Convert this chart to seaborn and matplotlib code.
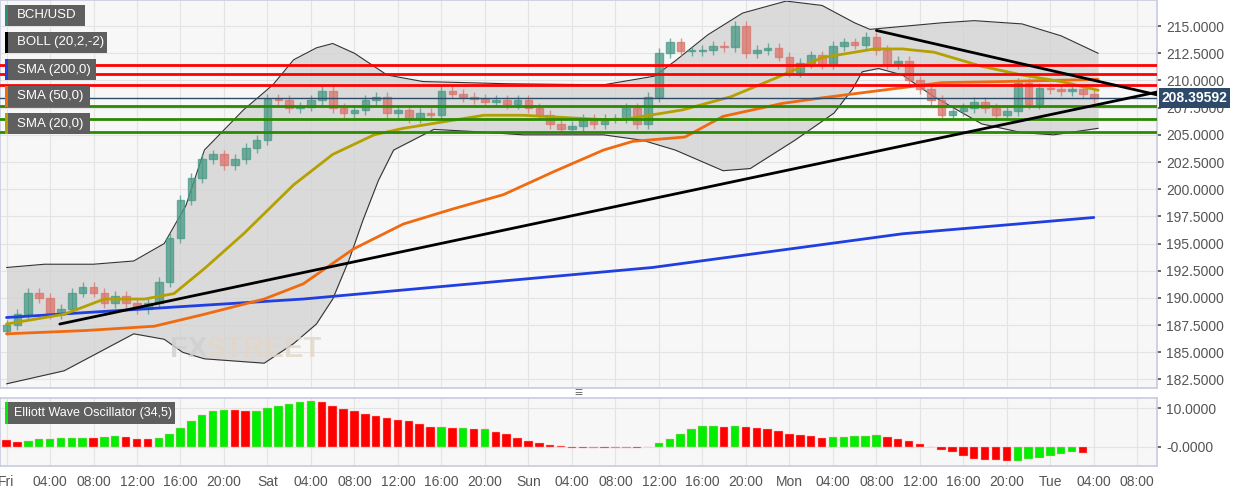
import numpy as np
import pandas as pd
import seaborn as sns
import matplotlib.pyplot as plt
from matplotlib.patches import Rectangle

# hourly closes, Fri 00:00 .. Tue 04:00
closes = [187.5, 188.5, 190.5, 190.0, 188.5, 189.0, 190.5, 191.0, 190.5, 189.5, 190.2, 189.5,
          189.0, 189.5, 191.5, 195.5, 199.0, 201.0, 202.8, 203.2, 202.2, 202.8, 203.8, 204.5,
          208.3, 208.2, 207.5, 207.6, 208.2, 209.0, 207.5, 207.0, 207.3, 208.2, 208.5, 207.0,
          207.3, 206.5, 207.0, 206.8, 209.0, 208.8, 208.5, 208.3, 208.0, 208.2, 207.8, 208.2,
          207.5, 206.8, 206.0, 205.5, 205.8, 206.5, 206.0, 206.5, 206.5, 207.5, 206.0, 208.5,
          212.5, 213.5, 212.7, 212.7, 212.8, 213.2, 213.1, 215.0, 212.5, 212.8, 213.0, 212.2,
          210.8, 211.6, 212.3, 211.5, 213.2, 213.5, 213.3, 214.0, 212.8, 211.5, 211.8, 210.0,
          209.2, 208.2, 206.8, 207.2, 207.5, 208.0, 207.5, 206.8, 207.2, 209.8, 207.8, 209.3,
          209.2, 209.0, 209.2, 208.8, 208.4]
first_open = 187.0

upper_h = [0, 3.5, 8, 11.7, 14.5, 16.5, 18.2, 21.8, 24.5, 26.4, 28.5, 30, 32, 35, 38.3, 46, 54.9,
           59.6, 61.5, 64.5, 67.7, 71.7, 75, 78, 79.4, 86, 89, 93.4, 97, 100.4]
upper_v = [192.8, 193.1, 193.1, 193.4, 195, 198.5, 203.6, 207.3, 209.6, 211.9, 213.0, 213.4, 212.5,
           210.5, 209.9, 209.7, 209.6, 210.4, 211.8, 214.2, 216.2, 217.3, 216.9, 215.3, 214.7,
           215.3, 215.5, 215.2, 214.1, 212.5]
lower_h = [0, 5.3, 11.7, 14.5, 16.2, 18.2, 23.7, 26.4, 28.5, 30, 31.5, 32.8, 34.2, 35.6, 39.3, 43,
           47.5, 51.2, 54.9, 58.5, 61.5, 65.9, 68.4, 72.5, 76.1, 77.8, 78.7, 80.2, 82.4, 85.3,
           89.7, 93.4, 96.3, 100.4]
lower_v = [182.1, 183.3, 186.7, 186.2, 185.0, 184.4, 184, 185.8, 187.6, 189.9, 193.5, 197.2,
           200.8, 203.6, 205.5, 205.3, 205, 205, 205, 204.5, 203.6, 201.7, 201.9, 204.5, 207,
           209.2, 210.8, 211.1, 210.5, 208.5, 206, 205.2, 205, 205.6]
sma20_h = [0, 5.3, 9, 12.7, 15.4, 18.2, 21.8, 26.4, 30, 33.8, 36.5, 40.2, 43.9, 47.5, 51.2, 54.9,
           56.7, 62.2, 66.6, 70.7, 75, 79.8, 82.4, 85.3, 89.7, 93.4, 97, 100.4]
sma20_v = [187.6, 188.5, 189.9, 189.9, 190.4, 192.7, 195.9, 200.4, 203.2, 205, 205.6, 206.2, 206.8,
           206.8, 206.6, 206.4, 206.4, 207.3, 208.5, 210.2, 212.1, 212.9, 212.9, 212.6, 211.3, 210.5,
           209.9, 209.1]
sma50_h = [0, 7.2, 13.6, 18.2, 23.7, 27.3, 31.9, 36.5, 41.1, 45.7, 50.3, 54.9, 57.6, 62.4, 65.9,
           71.4, 75, 80.5, 86, 91.6, 100.4]
sma50_v = [186.7, 187, 187.4, 188.5, 189.9, 191.3, 194.5, 196.8, 198.2, 199.5, 201.6, 203.6, 204.4,
           204.8, 206.7, 207.9, 208.4, 209.1, 209.8, 209.9, 210.1]
sma200_h = [0, 27.3, 59.4, 82.4, 100]
sma200_v = [188.2, 189.9, 192.8, 195.9, 197.4]

rise_h, rise_v = [4.9, 106.6], [187.6, 209.1]
fall_h, fall_v = [80, 106.6], [214.6, 208.5]
red_levels = [211.45, 210.6, 209.6]
green_levels = [207.65, 206.5, 205.3]
last_price = 208.39592

ewo = [1.8, 1.3, 1.6, 2.0, 2.0, 2.2, 2.2, 2.4, 2.3, 2.5, 2.7, 2.6, 2.1, 1.9, 2.2, 3.2, 4.8, 6.8,
       8.2, 9.4, 9.7, 9.5, 9.2, 9.2, 10.0, 10.6, 11.2, 11.6, 12.0, 11.6, 10.7, 9.9, 9.4, 8.6, 7.9,
       7.4, 7.1, 6.6, 6.0, 5.1, 5.1, 4.8, 4.8, 4.6, 4.6, 3.8, 3.2, 2.4, 1.6, 0.9, 0.4, 0.1,
       -0.2, -0.4, -0.3, -0.4, -0.3, -0.3, -0.4, 0.05, 1.1, 2.1, 3.4, 4.7, 5.3, 5.35, 5.1, 5.3,
       5.1, 4.9, 4.7, 4.2, 3.4, 3.0, 2.8, 2.4, 2.45, 2.6, 2.7, 2.9, 3.1, 2.6, 1.9, 1.4, 0.6,
       -0.1, -0.8, -1.5, -2.5, -3.1, -3.4, -3.5, -3.7, -3.6, -3.2, -3.0, -2.5, -2.0, -1.5, -1.7]

tick_hours = list(range(0, 105, 4))
day_names = {0: "Fri", 24: "Sat", 48: "Sun", 72: "Mon", 96: "Tue"}
tick_labels = [day_names.get(h, f"{h % 24:02d}:00") for h in tick_hours]

sns.set_theme(style="white")
plt.rcParams['font.family'] = ['Liberation Sans', 'DejaVu Sans']

fig = plt.figure(figsize=(12.4, 4.92), dpi=100)
ax = fig.add_axes([0.0, 0.211, 0.933, 0.789])
ax2 = fig.add_axes([0.0, 0.053, 0.933, 0.138])
for a in (ax, ax2):
    a.set_facecolor("#f7f7f7")
    a.set_xlim(-0.6, 105.8)
    a.set_xticks(tick_hours)
    a.grid(True, color="#e4e4e4", lw=0.8)
    a.yaxis.tick_right()
    for s in a.spines.values():
        s.set_color("#c8cde0")
    a.tick_params(axis="both", labelsize=10, colors="#555555", length=3)

# bollinger
ub = pd.DataFrame({"h": upper_h, "v": upper_v})
lb = pd.DataFrame({"h": lower_h, "v": lower_v})
grid_h = np.linspace(0, 100.4, 400)
ax.fill_between(grid_h, np.interp(grid_h, lower_h, lower_v), np.interp(grid_h, upper_h, upper_v),
                color="#cfcfcf", alpha=0.7, lw=0, zorder=1)
sns.lineplot(data=ub, x="h", y="v", ax=ax, color="#333333", lw=0.8, zorder=2)
sns.lineplot(data=lb, x="h", y="v", ax=ax, color="#333333", lw=0.8, zorder=2)

# candles
opens = [first_open] + closes[:-1]
for i, (o, c) in enumerate(zip(opens, closes)):
    up = c >= o
    col = "#4a9a86" if up else "#d9756c"
    ax.vlines(i, min(o, c) - 0.45, max(o, c) + 0.45, color=col, lw=1, alpha=0.75, zorder=3)
    ax.add_patch(Rectangle((i - 0.35, min(o, c)), 0.7, max(abs(c - o), 0.08),
                           facecolor=col, edgecolor=col, alpha=0.75, zorder=3))

sns.lineplot(x=sma200_h, y=sma200_v, ax=ax, color="#1f3fe0", lw=2, zorder=4)
sns.lineplot(x=sma50_h, y=sma50_v, ax=ax, color="#f06a10", lw=2, zorder=4)
sns.lineplot(x=sma20_h, y=sma20_v, ax=ax, color="#b5a000", lw=2, zorder=4)

for lv in red_levels:
    ax.axhline(lv, color="#ff0000", lw=2, zorder=5)
for lv in green_levels:
    ax.axhline(lv, color="#2a8a00", lw=2, zorder=5)
ax.axhline(last_price, color="#2d4a6b", lw=1, zorder=5)
sns.lineplot(x=rise_h, y=rise_v, ax=ax, color="black", lw=2, zorder=6)
sns.lineplot(x=fall_h, y=fall_v, ax=ax, color="black", lw=2, zorder=6)

ax.set_ylim(181.7, 217.4)
ax.set_yticks(np.arange(182.5, 215.1, 2.5))
ax.set_yticklabels([f"{v:.4f}" for v in np.arange(182.5, 215.1, 2.5)])
ax.set_xticklabels([])
ax.tick_params(axis="x", length=0)
ax.set_xlabel("")
ax.set_ylabel("")
ax.text(1.004, (last_price - 181.7) / (217.4 - 181.7), f"{last_price:.5f}", transform=ax.transAxes,
        ha="left", va="center", color="white", fontsize=10, fontweight="bold",
        bbox=dict(boxstyle="square,pad=0.2", fc="#2d4a6b", ec="none"), clip_on=False)
ax.text(15, 184.6, "FX", fontsize=21, color="#cfcfcf", fontweight="bold", alpha=0.8)
ax.text(18.4, 184.6, "STREET", fontsize=21, color="#e3d6c6", fontweight="bold", alpha=0.8)

# legend boxes
legend = [("BCH/USD", "#2e8b74", 5, 80), ("BOLL (20,2,-2)", "black", 32, 102),
          ("SMA (200,0)", "#1f3fe0", 59, 91), ("SMA (50,0)", "#f06a10", 86, 85),
          ("SMA (20,0)", "#b5a000", 113, 85)]
for text, col, top, w in legend:
    fig.patches.append(Rectangle((5 / 1240, 1 - (top + 21) / 492), w / 1240, 21 / 492,
                                 transform=fig.transFigure, fc="#5f5f5f", ec="none", zorder=10))
    fig.patches.append(Rectangle((5 / 1240, 1 - (top + 21) / 492), 2.5 / 1240, 21 / 492,
                                 transform=fig.transFigure, fc=col, ec="none", zorder=11))
    fig.text(17 / 1240, 1 - (top + 10.5) / 492, text, color="white", fontsize=9.5,
             va="center", zorder=12)

# EWO
ew = pd.DataFrame({"h": range(len(ewo)), "v": ewo})
ew["col"] = ["#ff0000" if i > 0 and v < ewo[i - 1] else "#00ee00" for i, v in enumerate(ewo)]
ew.loc[0, "col"] = "#ff0000"
ax2.bar(ew["h"], ew["v"], width=0.78, color=ew["col"], edgecolor="#ffb0b0", lw=0.3)
ax2.set_ylim(-5.0, 12.7)
ax2.set_yticks([0, 10])
ax2.set_yticklabels(["-0.0000", "10.0000"])
ax2.set_xticklabels(tick_labels)
fig.patches.append(Rectangle((5 / 1240, 1 - 424 / 492), 170 / 1240, 22 / 492,
                             transform=fig.transFigure, fc="#5f5f5f", ec="none", zorder=10))
fig.patches.append(Rectangle((5 / 1240, 1 - 424 / 492), 2.5 / 1240, 22 / 492,
                             transform=fig.transFigure, fc="#00ee00", ec="none", zorder=11))
fig.text(14 / 1240, 1 - 413 / 492, "Elliott Wave Oscillator (34,5)", color="white",
         fontsize=9, va="center", zorder=12)
fig.text(578 / 1240, 1 - 393 / 492, "\u2261", color="#777777", fontsize=10, ha="center", va="center")

fig.savefig("out.png", dpi=100, facecolor="white")
